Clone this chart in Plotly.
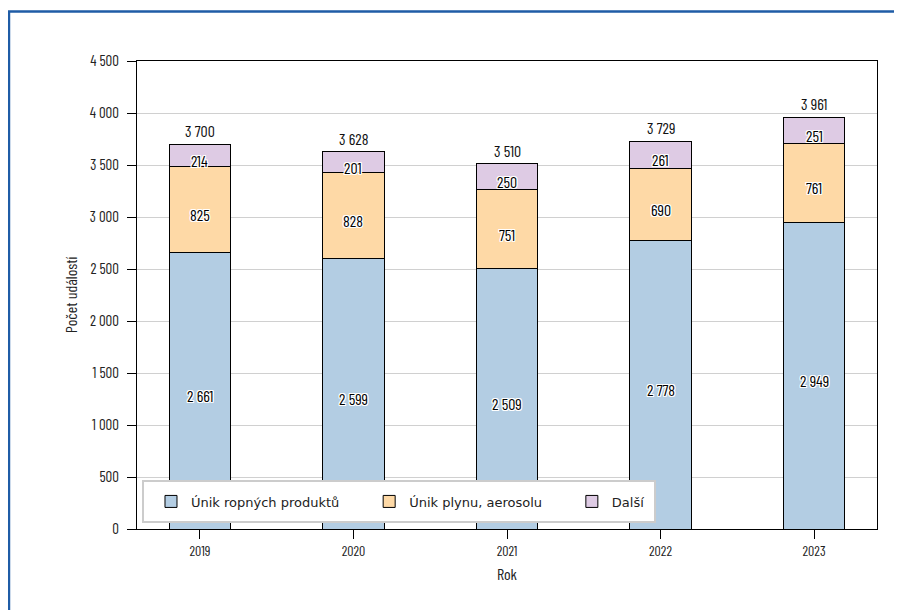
import plotly.graph_objects as go

years = ["2019", "2020", "2021", "2022", "2023"]
ropne = [2661, 2599, 2509, 2778, 2949]
plyn = [825, 828, 751, 690, 761]
dalsi = [214, 201, 250, 261, 251]
totals = [3700, 3628, 3510, 3729, 3961]
series_names = ["Únik ropných produktů", "Únik plynu, aerosolu", "Další"]
colors = ["#b3cde3", "#fed9a6", "#decbe4"]
y_ticks = [0, 500, 1000, 1500, 2000, 2500, 3000, 3500, 4000, 4500]

COND = "Barlow Condensed, Barlow Semi Condensed, Roboto Condensed, sans-serif"
LEG = "DejaVu Sans, Verdana, sans-serif"

def fmt(v):
    return f"{v:,}".replace(",", "\u2009")

shadow = ("1px 1px 0 white, -1px -1px 0 white, 1px -1px 0 white, -1px 1px 0 white, "
          "0 1px 0 white, 0 -1px 0 white, 1px 0 0 white, -1px 0 0 white")

PAD = "\u00a0" * 6

fig = go.Figure()
annotations = []
bases = [0] * len(years)
for name, vals, col in zip(series_names, [ropne, plyn, dalsi], colors):
    fig.add_trace(go.Bar(
        x=years, y=vals, name=name + PAD,
        marker=dict(color=col, line=dict(color="black", width=1)),
        width=0.4,
        hoverinfo="skip",
    ))
    for i, v in enumerate(vals):
        annotations.append(dict(
            x=i, y=bases[i] + v / 2, xref="x", yref="y", text=fmt(v), showarrow=False,
            yanchor="middle", yshift=-5,
            font=dict(family=COND, size=16, color="black", shadow=shadow),
        ))
        bases[i] += v

for i, t in enumerate(totals):
    annotations.append(dict(
        x=i, y=t, xref="x", yref="y", text=fmt(t), showarrow=False,
        yanchor="bottom", yshift=2,
        font=dict(family=COND, size=16, color="#111"),
    ))

fig.update_layout(
    width=902, height=610,
    margin=dict(l=129, r=33, t=53, b=89),
    barmode="stack",
    plot_bgcolor="white", paper_bgcolor="white",
    annotations=annotations,
    legend=dict(
        orientation="h", x=0.0189, y=0.0588, xanchor="left", yanchor="middle",
        bgcolor="rgba(0,0,0,0)", borderwidth=0,
        font=dict(family=LEG, size=13, color="#222"),
        traceorder="normal",
    ),
    xaxis=dict(
        type="category",
        range=[-0.41, 4.41], showline=True, linecolor="black", linewidth=1.2, mirror=True,
        ticks="outside", ticklen=9, tickcolor="black",
        tickfont=dict(family=COND, size=14, color="#222"),
        title=dict(text="Rok", font=dict(family=COND, size=16, color="#222"), standoff=10),
        showgrid=False,
    ),
    yaxis=dict(
        range=[0, 4500], showline=True, linecolor="black", linewidth=1.2, mirror=True,
        ticks="outside", ticklen=9, tickcolor="black",
        tickvals=y_ticks, ticktext=[fmt(v) for v in y_ticks],
        tickfont=dict(family=COND, size=15, color="#222"),
        ticklabelstandoff=5,
        title=dict(text="Počet událostí", font=dict(family=COND, size=16, color="#222"), standoff=8),
        showgrid=True, gridcolor="#d0d0d0", gridwidth=1,
    ),
    shapes=[
        dict(type="rect", xref="paper", yref="paper",
             x0=0.0081, x1=0.7, y0=0.015, y1=0.1026,
             line=dict(color="#cccccc", width=2), fillcolor="white", layer="above"),
        dict(type="rect", xref="paper", yref="paper",
             x0=-0.173, x1=1.2, y0=-0.4, y1=1.1058,
             line=dict(color="#1f5ca6", width=2.5), fillcolor="rgba(0,0,0,0)", layer="above"),
    ],
)

fig.write_html("out.html")
